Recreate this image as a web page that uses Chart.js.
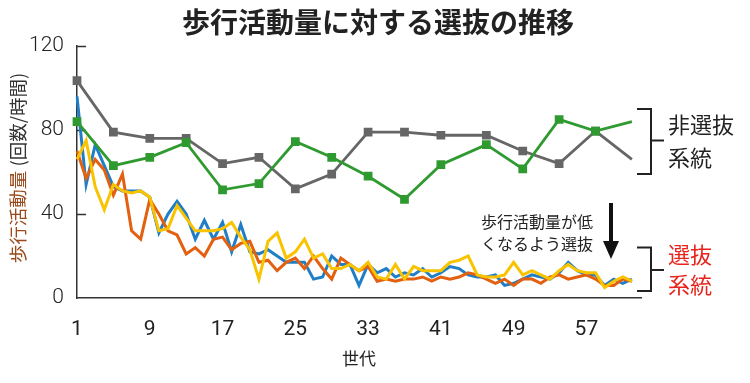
<!DOCTYPE html>
<html>
<head>
<meta charset="utf-8">
<script src="https://cdn.jsdelivr.net/npm/chart.js@4"></script>
<style>
  html, body { margin: 0; padding: 0; background: #fff; }
  #wrap { width: 750px; height: 383px; position: relative; }
</style>
</head>
<body>
<div id="wrap"><canvas id="chart" width="750" height="383"></canvas></div>
<script>
// generations on the x axis
const generations = ['1','2','3','4','5','6','7','8','9','10','11','12','13','14','15','16','17','18','19','20',
  '21','22','23','24','25','26','27','28','29','30','31','32','33','34','35','36','37','38','39','40',
  '41','42','43','44','45','46','47','48','49','50','51','52','53','54','55','56','57','58','59','60',
  '61','62','63'];
const xTickLabels = ['1','9','17','25','33','41','49','57'];
const yTickValues = [0, 40, 80, 120];

// selected lines (every generation 1..62)
const selectedBlue = [96,54,73,63,53,51,51,51,48,31,40,46,40,28,37,28,36,22,35,22,
  21,23,20,17,17,17,9,10,20,16,16,6,16,12,14,10,12,11,14,10,
  12,15,14,11,10,10,11,6,7,9,11,10,9,12,17,13,11,11,6,9,7,9];
const selectedOrange = [70,57,66,61,49,59,32,28,47,40,32,30,21,24,20,28,29,23,26,27,
  17,18,13,17,19,14,20,14,9,19,16,13,15,8,9,8,9,9,10,8,
  10,9,10,12,11,9,7,9,6,9,9,7,10,11,9,10,11,9,6,6,9,8];
const selectedYellow = [66,75,53,42,54,51,50,51,48,32,33,44,38,32,32,32,33,36,29,23,
  9,27,31,19,22,28,19,21,14,14,16,13,17,10,9,16,9,15,13,13,
  13,17,18,20,11,10,10,11,17,11,13,11,9,13,16,13,12,12,5,8,10,8];

// non-selected lines (measured every few generations)
const controlGens = ['1','5','9','13','17','21','25','29','33','37','41','46','50','54','58','62'];
const controlGray = [103.5,79,76,76,64,67,52,59,79,79,77.5,77.5,70,64,79.5,66];
const controlGreen = [84,63,67,74,51.5,54.5,74.5,67,58,47,63.5,73,61.5,85,79.5,84];

const toPoints = (gens, vals) => gens.map((g, i) => ({ x: g, y: vals[i] }));
const markerSizes = controlGens.map((g, i) => i === controlGens.length - 1 ? 0 : 4.2);

const cjk = "'Noto Sans CJK JP', sans-serif";
const digits = "'Roboto', sans-serif";

const annotations = {
  id: 'annotations',
  beforeDatasetsDraw(chart) {
    const { ctx, chartArea, scales: { y } } = chart;
    ctx.save();
    ctx.strokeStyle = '#333';
    ctx.lineWidth = 1.5;
    yTickValues.slice(1).forEach(v => {
      const py = Math.round(y.getPixelForValue(v)) + 0.5;
      ctx.beginPath();
      ctx.moveTo(chartArea.left, py);
      ctx.lineTo(chartArea.left + 9, py);
      ctx.stroke();
    });
    ctx.restore();
  },
  afterDraw(chart) {
    const { ctx, scales: { y } } = chart;
    ctx.save();

    // main title
    ctx.font = 'bold 28px ' + cjk;
    ctx.textAlign = 'center';
    ctx.textBaseline = 'middle';
    ctx.fillStyle = '#222';
    ctx.fillText('歩行活動量に対する選抜の推移', 378, 22);

    // y axis title, two colours
    ctx.translate(18, 168);
    ctx.rotate(-Math.PI / 2);
    ctx.font = '18.5px ' + cjk;
    ctx.textAlign = 'left';
    const part1 = '歩行活動量', part2 = ' (回数/時間)';
    const w1 = ctx.measureText(part1).width, w2 = ctx.measureText(part2).width;
    const sx = -(w1 + w2) / 2;
    ctx.fillStyle = '#9a4a1c';
    ctx.fillText(part1, sx, 0);
    ctx.fillStyle = '#333';
    ctx.fillText(part2, sx + w1, 0);
    ctx.setTransform(1, 0, 0, 1, 0, 0);

    // brackets
    const bracket = (top, bottom, mid) => {
      const t = y.getPixelForValue(top), b = y.getPixelForValue(bottom), m = y.getPixelForValue(mid);
      ctx.strokeStyle = '#222';
      ctx.lineWidth = 2;
      ctx.beginPath();
      ctx.moveTo(637, t); ctx.lineTo(651, t); ctx.lineTo(651, b); ctx.lineTo(637, b);
      ctx.moveTo(651, m); ctx.lineTo(664, m);
      ctx.stroke();
    };
    bracket(90, 59, 75);
    bracket(24, 3.3, 13.3);

    ctx.font = '22px ' + cjk;
    ctx.textAlign = 'left';
    ctx.fillStyle = '#222';
    ctx.fillText('非選抜', 668, 125);
    ctx.fillText('系統', 668, 158);
    ctx.fillStyle = '#e8231c';
    ctx.fillText('選抜', 668, 255);
    ctx.fillText('系統', 668, 285);

    // arrow
    ctx.fillStyle = '#111';
    ctx.fillRect(609, 203, 4, 40);
    ctx.beginPath();
    ctx.moveTo(603, 241); ctx.lineTo(619, 241); ctx.lineTo(611, 259);
    ctx.closePath();
    ctx.fill();

    ctx.font = '16px ' + cjk;
    ctx.textAlign = 'center';
    ctx.fillStyle = '#222';
    ctx.fillText('歩行活動量が低', 537, 222);
    ctx.fillText('くなるよう選抜', 537, 244);
    ctx.restore();
  }
};

const lineStyle = (color) => ({
  borderColor: color,
  backgroundColor: color,
  borderWidth: 3,
  pointRadius: 0,
  tension: 0,
  fill: false
});

// first dataset is drawn on top
new Chart(document.getElementById('chart'), {
  type: 'line',
  data: {
    labels: generations,
    datasets: [
      { label: '非選抜2', data: toPoints(controlGens, controlGreen), ...lineStyle('#2f9a2f'),
        pointStyle: 'rect', pointRadius: markerSizes, borderWidth: 2.8 },
      { label: '非選抜1', data: toPoints(controlGens, controlGray), ...lineStyle('#666666'),
        pointStyle: 'rect', pointRadius: markerSizes, borderWidth: 2.8 },
      { label: '選抜3', data: selectedYellow, ...lineStyle('#f9c300') },
      { label: '選抜2', data: selectedOrange, ...lineStyle('#e2600f') },
      { label: '選抜1', data: selectedBlue, ...lineStyle('#1f7ec6') }
    ]
  },
  options: {
    responsive: false,
    animation: false,
    spanGaps: true,
    layout: { padding: { left: 0, right: 109, top: 46, bottom: 0 } },
    plugins: {
      legend: { display: false },
      tooltip: { enabled: false },
      title: { display: false }
    },
    scales: {
      x: {
        type: 'category',
        offset: false,
        grid: { display: false, drawTicks: false },
        border: { display: true, color: '#333', width: 1.5 },
        ticks: {
          autoSkip: false,
          maxRotation: 0,
          padding: 19,
          color: '#222',
          font: { family: digits, size: 21 },
          callback: function (val) {
            const label = this.getLabelForValue(val);
            return xTickLabels.includes(label) ? label : '';
          }
        },
        title: {
          display: true,
          text: '世代',
          color: '#222',
          font: { family: cjk, size: 17 },
          padding: { top: 0, bottom: 14 }
        },
        afterFit: (scale) => { scale.height = 85; }
      },
      y: {
        min: 0,
        max: 120,
        grid: { display: false, drawTicks: false },
        border: { display: true, color: '#333', width: 1.5 },
        ticks: {
          stepSize: 40,
          padding: 13,
          color: '#222',
          font: { family: digits, size: 21, weight: '300' }
        },
        afterFit: (scale) => { scale.width = 77; }
      }
    }
  },
  plugins: [annotations]
});
</script>
</body>
</html>
